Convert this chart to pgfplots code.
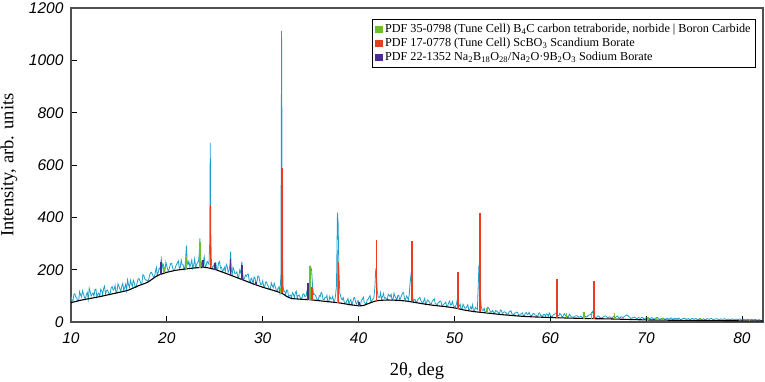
\documentclass[border=0pt]{standalone}
\usepackage{pgfplots}
\pgfplotsset{compat=1.18}
\usepackage{pgfplotstable}
\usepackage{fontspec}
\setmainfont{Liberation Serif}
\setsansfont{Liberation Sans}
\definecolor{xcyan}{RGB}{27,160,200}
\definecolor{xgreen}{RGB}{108,190,45}
\definecolor{xred}{RGB}{235,60,30}
\definecolor{xpurple}{RGB}{75,45,140}
\definecolor{frame}{RGB}{80,80,80}

\pgfplotstableread{
x y
10.0 98
10.1 81
10.2 80
10.3 105
10.4 108
10.5 95
10.6 92
10.7 80
10.8 82
10.9 116
11.0 104
11.1 96
11.2 119
11.3 107
11.4 94
11.5 90
11.6 105
11.7 113
11.8 87
11.9 129
12.0 116
12.1 99
12.2 106
12.3 111
12.4 99
12.5 124
12.6 126
12.7 96
12.8 107
12.9 110
13.0 99
13.1 125
13.2 121
13.3 104
13.4 128
13.5 137
13.6 107
13.7 120
13.8 122
13.9 114
14.0 105
14.1 112
14.2 132
14.3 135
14.4 122
14.5 125
14.6 140
14.7 111
14.8 118
14.9 146
15.0 137
15.1 126
15.2 119
15.3 138
15.4 147
15.5 121
15.6 131
15.7 144
15.8 121
15.9 161
16.0 143
16.1 132
16.2 160
16.3 146
16.4 136
16.5 160
16.6 150
16.7 134
16.8 133
16.9 150
17.0 164
17.1 166
17.2 156
17.3 147
17.4 150
17.5 181
17.6 178
17.7 165
17.8 160
17.9 161
18.0 154
18.1 161
18.2 179
18.3 188
18.4 190
18.5 181
18.6 172
18.7 170
18.8 191
18.9 209
19.0 177
19.1 190
19.2 205
19.3 203
19.35 220
19.42 240
19.5 205
19.6 222
19.7 211
19.8 194
19.9 229
20.0 214
20.1 199
20.2 196
20.3 211
20.4 223
20.5 224
20.6 208
20.7 197
20.8 197
20.9 211
21.0 219
21.1 226
21.2 234
21.3 205
21.4 208
21.5 237
21.6 219
21.7 219
21.8 200
21.9 213
21.95 240
22.05 292
22.12 230
22.2 219
22.3 232
22.4 211
22.5 221
22.6 237
22.7 206
22.8 217
22.9 241
23.0 209
23.1 219
23.2 229
23.3 230
23.38 260
23.45 320
23.52 240
23.6 213
23.7 233
23.8 228
23.9 249
24.0 209
24.1 216
24.2 232
24.3 226
24.4 220
24.47 300
24.53 685
24.58 350
24.65 230
24.7 204
24.8 210
24.9 216
25.0 225
25.1 227
25.2 202
25.3 202
25.4 226
25.5 231
25.6 206
25.7 209
25.8 192
25.9 199
26.0 209
26.1 193
26.2 220
26.3 212
26.4 190
26.5 197
26.58 220
26.65 269
26.72 210
26.8 175
26.9 209
27.0 200
27.1 185
27.2 186
27.3 192
27.4 174
27.5 170
27.6 198
27.7 189
27.75 200
27.82 231
27.9 190
28.0 162
28.1 167
28.2 179
28.3 175
28.4 182
28.5 183
28.6 157
28.7 151
28.8 168
28.9 161
29.0 146
29.1 172
29.2 168
29.3 147
29.4 155
29.5 176
29.6 175
29.7 154
29.8 143
29.9 144
30.0 157
30.1 137
30.2 134
30.3 152
30.4 153
30.5 141
30.6 136
30.7 125
30.8 125
30.9 150
31.0 139
31.1 131
31.2 148
31.3 136
31.4 123
31.5 118
31.6 129
31.7 134
31.8 110
31.9 180
31.97 1113
32.05 300
32.12 140
32.2 117
32.3 118
32.4 105
32.5 122
32.6 122
32.7 96
32.8 102
32.9 103
33.0 92
33.1 112
33.2 107
33.3 93
33.4 111
33.5 118
33.6 92
33.7 102
33.8 103
33.9 95
34.0 87
34.1 92
34.2 107
34.3 108
34.4 97
34.5 99
34.6 116
34.7 86
34.8 91
34.9 150
35.0 210
35.1 200
35.2 140
35.3 105
35.4 107
35.5 101
35.6 93
35.7 84
35.8 83
35.9 101
36.0 98
36.1 113
36.2 108
36.3 86
36.4 85
36.5 94
36.6 93
36.7 102
36.8 76
36.9 78
37.0 98
37.1 88
37.2 88
37.3 98
37.4 80
37.5 79
37.6 101
37.7 140
37.8 418
37.87 380
37.95 200
38.05 110
38.2 90
38.3 85
38.4 93
38.5 78
38.6 73
38.7 74
38.8 83
38.9 90
39.0 67
39.1 80
39.2 86
39.3 66
39.4 76
39.5 92
39.6 94
39.7 74
39.8 69
39.9 81
40.0 81
40.1 64
40.2 65
40.3 83
40.4 87
40.5 95
40.6 74
40.7 72
40.8 68
40.9 84
41.0 87
41.1 95
41.2 101
41.3 75
41.4 82
41.5 88
41.6 93
41.7 130
41.8 205
41.87 180
41.95 120
42.05 95
42.2 94
42.3 112
42.4 88
42.5 97
42.6 109
42.7 91
42.8 93
42.9 89
43.0 86
43.1 106
43.2 102
43.3 97
43.4 106
43.5 84
43.6 87
43.7 110
43.8 98
43.9 93
44.0 83
44.1 101
44.2 102
44.3 84
44.4 93
44.5 102
44.6 111
44.7 113
44.8 87
44.9 86
45.0 99
45.1 94
45.2 84
45.3 110
45.4 160
45.47 180
45.55 140
45.65 100
45.7 77
45.8 85
45.9 86
46.0 75
46.1 78
46.2 87
46.3 90
46.4 94
46.5 82
46.6 76
46.7 71
46.8 81
46.9 90
47.0 68
47.1 76
47.2 84
47.3 81
47.4 76
47.5 69
47.6 70
47.7 81
47.8 84
47.9 89
48.0 71
48.1 69
48.2 64
48.3 74
48.4 75
48.5 80
48.6 79
48.7 62
48.8 64
48.9 68
49.0 71
49.1 76
49.2 59
49.3 62
49.4 73
49.5 80
49.6 65
49.7 67
49.8 78
49.9 62
50.0 59
50.1 58
50.2 67
50.25 75
50.32 90
50.4 70
50.5 61
50.6 68
50.7 49
50.8 51
50.9 68
51.0 60
51.1 53
51.2 53
51.3 58
51.4 66
51.5 46
51.6 48
51.7 58
51.8 51
51.9 66
52.0 40
52.1 46
52.2 56
52.3 51
52.4 48
52.45 100
52.55 205
52.62 190
52.7 110
52.8 60
52.9 45
53.0 44
53.1 53
53.2 37
53.3 39
53.4 48
53.5 57
53.6 52
53.7 44
53.8 37
53.9 39
54.0 44
54.1 36
54.2 33
54.3 44
54.4 42
54.5 38
54.6 37
54.7 31
54.8 46
54.9 44
55.0 33
55.1 35
55.2 39
55.3 38
55.4 35
55.5 30
55.6 30
55.7 38
55.8 41
55.9 43
56.0 31
56.1 30
56.2 27
56.3 34
56.4 35
56.5 38
56.6 36
56.7 25
56.8 27
56.9 30
57.0 32
57.1 35
57.2 24
57.3 25
57.4 33
57.5 37
57.6 29
57.7 30
57.8 37
57.9 26
58.0 25
58.1 24
58.2 32
58.3 33
58.4 27
58.5 27
58.6 23
58.7 21
58.8 34
58.9 35
59.0 25
59.1 25
59.2 21
59.3 29
59.4 29
59.5 21
59.6 31
59.7 30
59.8 21
59.9 35
60.0 27
60.1 22
60.2 19
60.3 27
60.4 29
60.5 31
60.6 32
60.65 40
60.7 28
60.8 25
60.9 24
61.0 33
61.1 29
61.2 21
61.3 20
61.4 28
61.5 32
61.6 23
61.7 24
61.8 19
61.9 21
62.0 30
62.2 20
62.4 18
62.6 23
62.8 24
63.0 18
63.2 22
63.4 16
63.6 22
63.8 19
64.0 26
64.2 28
64.4 40
64.6 20
64.8 17
65.0 24
65.2 17
65.4 15
65.6 22
65.8 23
66.0 16
66.2 20
66.4 14
66.6 21
66.8 17
67.0 23
67.2 14
67.4 20
67.6 17
67.8 23
68.0 27
68.2 21
68.4 14
68.6 16
68.8 19
69.0 12
69.2 17
69.4 14
69.6 18
69.8 11
70.0 16
70.2 16
70.4 13
70.6 17
70.8 11
71.0 15
71.2 17
71.4 10
71.6 13
71.8 15
72.0 9
72.2 14
72.4 11
72.6 16
72.8 10
73.0 14
73.2 12
73.4 15
73.6 9
73.8 12
74.0 15
74.2 10
74.4 13
74.6 9
74.8 14
75.0 11
75.2 13
75.4 9
75.6 14
75.8 10
76.0 12
76.2 8
76.4 13
76.6 10
76.8 14
77.0 9
77.2 11
77.4 13
77.6 8
77.8 12
78.0 10
78.2 13
78.4 8
78.6 11
78.8 9
79.0 12
79.2 8
79.4 11
79.6 9
79.8 12
80.0 7
80.2 10
80.4 8
80.6 11
80.8 7
81.0 10
81.2 8
81.4 10
81.6 7
81.8 9
82.0 6
82.2 8
}\xrd

\pgfplotstableread{
x y
10 74
11 83
12 90
13 97
14 105
15 113
16 122
17 138
18 152
19 177
20 190
21 198
22 203
23 207
24 209
25 201
26 188
27 174
28 160
29 146
30 133
31 122
32 110
32.5 98
33 90
34 87
35 85
36 81
37 77
38 73
39 67
40 62
40.5 63
41 70
41.5 77
42 82
43 84
44 83
45 80
46 74
47 68
48 63
49 59
50 54
51 46
52 40
53 36
54 32
55 28
56 25
57 22
58 20
60 17
62 15
64 13
66 12
68 10
70 8
72 7
75 6
78 5
82.2 4
}\bkg

\begin{document}
\begin{tikzpicture}
\useasboundingbox (-71pt,-59pt) rectangle (694pt,322pt);
\begin{axis}[
  scale only axis,
  width=692pt, height=314pt,
  xmin=10, xmax=82.2, ymin=0, ymax=1200,
  xtick={10,20,...,80}, ytick={0,200,...,1200},
  tick align=inside,
  xtick pos=bottom, ytick pos=left,
  major tick length=6pt,
  every tick/.style={black, line width=0.8pt},
  axis line style={frame, line width=1.3pt},
  /pgf/number format/assume math mode=true,
  /pgf/number format/1000 sep={},
  tick label style={font=\fontsize{15.5}{16}\selectfont\sffamily\itshape},
  yticklabel style={xshift=-4pt},
  xticklabel style={yshift=-7pt},
  xlabel={2θ, deg},
  ylabel={Intensity, arb. units},
  label style={font=\fontsize{18.5}{20}\selectfont},
  xlabel style={at={(axis description cs:0.5,0)}, anchor=base, yshift=-53pt},
  ylabel style={at={(axis description cs:-0.0896,0.5)}, anchor=center},
  unbounded coords=jump,
  legend cell align=left,
  legend style={at={(0.99,0.965)}, anchor=north east, draw=black, line width=0.9pt,
    font=\fontsize{12.2}{13}\selectfont, row sep=0pt, inner sep=3pt,
    /tikz/every even column/.append style={column sep=2pt}},
  legend image code/.code={\fill[#1] (0pt,-3pt) rectangle (6pt,3pt);},
]
\addplot[xcyan, line width=0.8pt, forget plot] table[x=x,y=y] {\xrd};
\addplot[black, line width=1.1pt, smooth, tension=0.3, forget plot] table[x=x,y=y] {\bkg};
% B4C sticks
\addplot[xgreen, line width=1.6pt] coordinates {
(19.7,186)(19.7,211)(19.7,nan)
(22.0,203)(22.0,247)(22.0,nan)
(23.45,207)(23.45,307)(23.45,nan)
(31.85,112)(31.85,130)(31.85,nan)
(34.93,85)(34.93,214)(34.93,nan)
(37.8,74)(37.8,275)(37.8,nan)
(53.4,34)(53.4,55)(53.4,nan)
(61.7,15)(61.7,36)(61.7,nan)
(63.55,13)(63.55,40)(63.55,nan)
(64.3,13)(64.3,38)(64.3,nan)
(66.7,11)(66.7,36)(66.7,nan)
(70.2,8)(70.2,18)(70.2,nan)
(71.1,7.5)(71.1,18)(71.1,nan)
(71.7,7)(71.7,17)(71.7,nan)
(75.6,6)(75.6,14)(75.6,nan)
(80.8,5)(80.8,11)
};
\addlegendentry{PDF 35-0798 (Tune Cell) B\textsubscript{4}C carbon tetraboride, norbide | Boron Carbide}
% ScBO3 sticks
\addplot[xred, line width=1.7pt] coordinates {
(24.55,205)(24.55,447)(24.55,nan)
(32.0,110)(32.0,587)(32.0,nan)
(35.17,84)(35.17,135)(35.17,nan)
(37.9,73)(37.9,228)(37.9,nan)
(41.88,80)(41.88,313)(41.88,nan)
(45.58,79)(45.58,311)(45.58,nan)
(50.35,51)(50.35,192)(50.35,nan)
(52.68,38)(52.68,418)(52.68,nan)
(60.7,17)(60.7,163)(60.7,nan)
(64.6,13)(64.6,157)
};
\addlegendentry{PDF 17-0778 (Tune Cell) ScBO\textsubscript{3} Scandium Borate}
% Na borate sticks
\addplot[xpurple, line width=1.6pt] coordinates {
(19.4,181)(19.4,230)(19.4,nan)
(23.8,208)(23.8,237)(23.8,nan)
(25.05,200)(25.05,225)(25.05,nan)
(26.66,178)(26.66,240)(26.66,nan)
(27.85,162)(27.85,218)(27.85,nan)
(29.3,142)(29.3,154)(29.3,nan)
(34.75,86)(34.75,150)(34.75,nan)
(40.05,62)(40.05,75)
};
\addlegendentry{PDF 22-1352 Na\textsubscript{2}B\textsubscript{18}O\textsubscript{28}/Na\textsubscript{2}O·9B\textsubscript{2}O\textsubscript{3} Sodium Borate}
\end{axis}
\end{tikzpicture}
\end{document}
